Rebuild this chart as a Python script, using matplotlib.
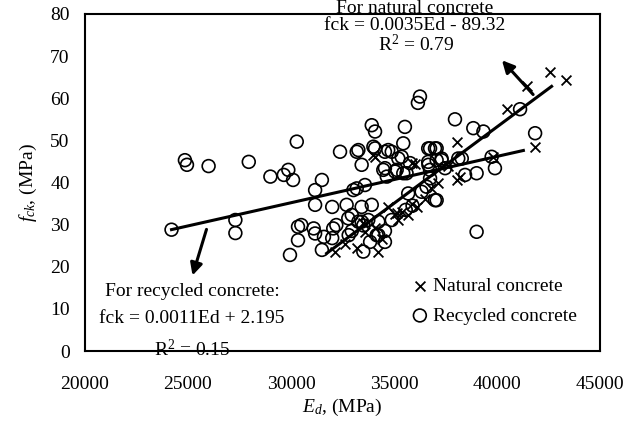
import numpy as np
import matplotlib
matplotlib.use("Agg")
import matplotlib.pyplot as plt

plt.rcParams['font.family'] = ['Liberation Serif', 'DejaVu Serif']
plt.rcParams['mathtext.fontset'] = 'custom'
plt.rcParams['mathtext.rm'] = 'Liberation Serif'
plt.rcParams['mathtext.it'] = 'Liberation Serif:italic'
plt.rcParams['mathtext.bf'] = 'Liberation Serif:bold:italic'

# natural concrete (crosses)
nat_ed = [32150, 32600, 33190, 33600, 34080, 34240, 34400, 34720, 35050, 35130,
          35210, 35370, 35690, 35860, 36100, 36500, 36820, 37150, 34000, 34080,
          35860, 36020, 37630, 38040, 38200, 38040, 39820, 40500, 41440, 41850,
          42570, 43350, 33500]
nat_fck = [23.6, 25.5, 24.4, 28.3, 29.1, 23.6, 26.5, 34.2, 32.5, 32.7,
           31.1, 33.1, 32.3, 35.0, 34.2, 36.2, 38.6, 39.8, 46.5, 46.1,
           44.6, 44.5, 43.8, 40.6, 41.4, 49.7, 46.1, 57.4, 62.9, 48.5,
           66.3, 64.3, 30.5]

# recycled concrete (circles)
rec_ed = [24200, 24850, 24950, 26000, 27950, 27300, 27300, 29000, 29650, 29870,
          30100, 30280, 29950, 30340, 30340, 30500, 31100, 31170, 31170, 31170,
          31500, 31500, 31600, 32000, 32000, 32050, 32200, 32380, 32700, 32800,
          32950, 33030, 33190, 33190, 33270, 33430, 33430, 33430, 33510, 33590,
          33840, 33920, 33920, 34000, 34080, 34240, 34560, 34560, 34560, 34650,
          34890, 35130, 35370, 35450, 35530, 35610, 35780, 36160, 36260, 36660,
          36660, 36750, 36750, 36990, 36990, 37070, 37310, 37480, 37960, 38290,
          38450, 38850, 39010, 39010, 39340, 39740, 39900, 41120, 41850, 34080,
          34720, 35210, 34480, 35050, 35450, 37070, 37310, 36670, 38120, 32780,
          33270, 33750, 34240, 35690, 36340, 36580, 37070, 35900, 35570, 34890,
          32950, 33510, 34160, 34560, 36750]
rec_fck = [28.8, 45.3, 44.2, 43.9, 44.9, 31.1, 28.0, 41.4, 41.8, 43.0,
           40.6, 49.7, 22.8, 29.5, 26.3, 29.9, 29.1, 27.9, 34.7, 38.2,
           40.6, 24.0, 27.1, 34.2, 26.8, 29.1, 29.9, 47.3, 34.7, 27.5,
           32.3, 38.2, 38.6, 47.3, 47.7, 44.2, 30.7, 34.2, 23.6, 39.4,
           25.9, 53.6, 34.7, 48.5, 52.1, 27.5, 47.3, 43.4, 25.9, 41.4,
           47.3, 43.0, 46.1, 49.3, 53.2, 42.2, 44.6, 58.9, 60.4, 48.1,
           44.9, 48.1, 43.0, 48.1, 35.8, 48.1, 45.3, 43.4, 55.0, 45.7,
           41.8, 52.9, 42.2, 28.3, 52.1, 46.1, 43.4, 57.4, 51.7, 48.1,
           47.7, 45.7, 43.0, 42.6, 42.2, 45.3, 45.7, 44.2, 45.7, 31.5,
           30.7, 31.1, 30.7, 37.4, 37.8, 39.0, 35.8, 34.5, 33.5, 31.1,
           28.5, 29.8, 27.5, 28.5, 41.0]

# trend lines as drawn (slope, intercept, x range)
nat_fit = (0.00363, -92.0)
nat_range = [31730, 42650]
rec_fit = (0.0011, 2.195)
rec_range = [24200, 41280]

fig = plt.figure(figsize=(6.38, 4.21), dpi=100)
ax = fig.add_axes([85 / 638, 70 / 421, 515 / 638, 337 / 421])

ax.scatter(rec_ed, rec_fck, s=85, facecolors='none', edgecolors='black',
           linewidths=1.2, marker='o', label='Recycled concrete', zorder=3)
ax.scatter(nat_ed, nat_fck, s=50, color='black', linewidths=1.3,
           marker='x', label='Natural concrete', zorder=3)

xs = np.array(nat_range)
ax.plot(xs, nat_fit[0] * xs + nat_fit[1], color='black', lw=2.2, zorder=4)
xs = np.array(rec_range)
ax.plot(xs, rec_fit[0] * xs + rec_fit[1], color='black', lw=2.2, zorder=4)

arr = dict(arrowstyle='-|>', color='black', lw=2.2, mutation_scale=18)
ax.annotate('', xy=(40150, 69.5), xytext=(41845, 60.4), arrowprops=arr)
ax.annotate('', xy=(25180, 17.3), xytext=(25937, 29.5), arrowprops=arr)

fs = 14
ax.text(36020, 81.2, 'For natural concrete', ha='center', va='center',
        fontsize=fs, clip_on=False)
ax.text(36020, 77.2, 'fck = 0.0035Ed - 89.32', ha='center', va='center', fontsize=fs)
ax.text(36100, 72.8, 'R$^2$ = 0.79', ha='center', va='center', fontsize=fs)

ax.text(25190, 14.1, 'For recycled concrete:', ha='center', va='center', fontsize=fs)
ax.text(25190, 7.6, 'fck = 0.0011Ed + 2.195', ha='center', va='center', fontsize=fs)
ax.text(25190, 0.4, 'R$^2$ = 0.15', ha='center', va='center', fontsize=fs,
        clip_on=False)

ax.set_xlim(20000, 45000)
ax.set_ylim(0, 80)
ax.set_xticks(np.arange(20000, 45001, 5000))
ax.set_yticks(np.arange(0, 81, 10))
ax.tick_params(length=0, labelsize=14)
ax.tick_params(axis='x', pad=18)
ax.tick_params(axis='y', pad=11)
for s in ax.spines.values():
    s.set_linewidth(1.5)

ax.set_xlabel('$E_d$, (MPa)', fontsize=14, labelpad=3)
ax.set_ylabel('$f_{ck}$, (MPa)', fontsize=14, labelpad=8)

h, l = ax.get_legend_handles_labels()
ax.legend(h[::-1], l[::-1], loc='center left', bbox_to_anchor=(0.62, 0.148),
          frameon=False, fontsize=14, handlelength=0.8, handletextpad=0.3,
          labelspacing=0.6, borderaxespad=0)

fig.savefig('out.png', dpi=100)
